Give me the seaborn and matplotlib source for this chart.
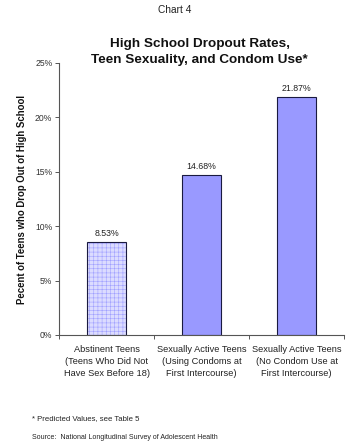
import pandas as pd
import matplotlib
matplotlib.use("Agg")
import matplotlib.pyplot as plt
import seaborn as sns

groups = ["Abstinent Teens\n(Teens Who Did Not\nHave Sex Before 18)",
          "Sexually Active Teens\n(Using Condoms at\nFirst Intercourse)",
          "Sexually Active Teens\n(No Condom Use at\nFirst Intercourse)"]
rates = [8.53, 14.68, 21.87]
yticks = [0, 5, 10, 15, 20, 25]

df = pd.DataFrame({"group": groups, "rate": rates})

sns.set_theme(style="white")
plt.rcParams["font.family"] = ["Liberation Sans", "DejaVu Sans"]
plt.rcParams["hatch.linewidth"] = 0.4

fig = plt.figure(figsize=(3.5, 4.47), dpi=100)
ax = fig.add_axes([0.169, 0.2506, 0.814, 0.6085])

sns.barplot(data=df, x="group", y="rate", color="#9999ff", width=0.41,
            saturation=1, linewidth=0, ax=ax)
# first bar: light checkered fill
p0 = ax.patches[0]
p0.set_facecolor("#dcdcff")
p0.set_edgecolor("#a0a0ff")
p0.set_hatch("++++")
# outlines
sns.barplot(data=df, x="group", y="rate", fill=False, width=0.41,
            edgecolor="#1a1a40", linewidth=0.8, ax=ax)

for i, v in enumerate(rates):
    ax.text(i, v + 0.35, f"{v:.2f}%", ha="center", va="bottom", fontsize=6.3, color="#222222")

ax.set_xlim(-0.5, 2.5)
ax.set_ylim(0, 25)
ax.set_yticks(yticks)
ax.set_yticklabels([f"{t}%" for t in yticks], fontsize=6.2, color="#333333")
ax.set_xticks(range(3))
ax.set_xticklabels(groups, fontsize=6.7, color="#222222", linespacing=1.45)
ax.set_xticks([-0.5, 0.5, 1.5, 2.5], minor=True)
ax.tick_params(axis="x", which="major", length=0, pad=7)
ax.tick_params(axis="x", which="minor", length=3, width=0.7, color="#555555", bottom=True)
ax.tick_params(axis="y", length=3, width=0.7, color="#555555", left=True, pad=2)
sns.despine(ax=ax)
for s in ["left", "bottom"]:
    ax.spines[s].set_color("#555555")
    ax.spines[s].set_linewidth(0.8)
ax.set_xlabel("")
ax.set_ylabel("Pecent of Teens who Drop Out of High School", fontsize=6.9,
              fontweight="bold", labelpad=6, color="#111111")

fig.text(0.5, 0.977, "Chart 4", ha="center", va="center", fontsize=7.3, color="#222222")
fig.text(0.571, 0.884, "High School Dropout Rates,\nTeen Sexuality, and Condom Use*",
         ha="center", va="center", fontsize=9.7, fontweight="bold",
         linespacing=1.45, color="#111111")
fig.text(0.09, 0.063, "* Predicted Values, see Table 5", ha="left", va="center",
         fontsize=5.6, color="#222222")
fig.text(0.09, 0.022, "Source:  National Longitudinal Survey of Adolescent Health",
         ha="left", va="center", fontsize=5.0, color="#222222")

fig.savefig("out.png", dpi=100)
